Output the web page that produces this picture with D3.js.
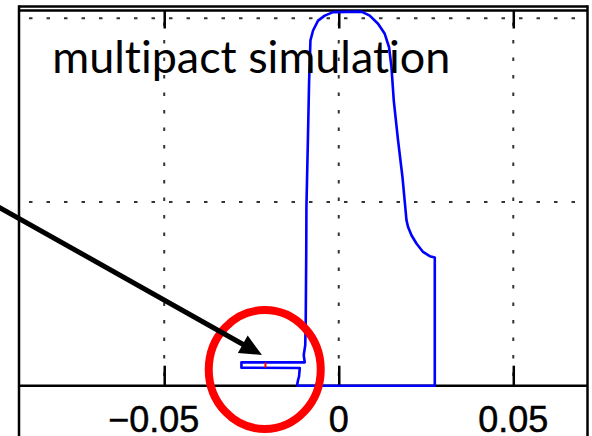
<!DOCTYPE html>
<html>
<head>
<meta charset="utf-8">
<script src="https://cdn.jsdelivr.net/npm/d3@7/dist/d3.min.js"></script>
<style>
  html, body { margin: 0; padding: 0; background: #fff; }
  svg { display: block; }
</style>
</head>
<body>
<div id="chart"></div>
<script>
// profile (x in m, y in arbitrary units)
const curveX = [-0.01209, -0.01195, -0.01166, -0.01138, -0.01117, -0.02788, -0.02788, -0.00974,
  -0.01003, -0.0096, -0.00946, -0.00931, -0.00926, -0.0088, -0.00851, -0.00811, -0.00736,
  -0.00593, -0.00401, -0.00163, 0.0065, 0.00888, 0.01126, 0.01318, 0.01441, 0.0151, 0.01576,
  0.01699, 0.01825, 0.0194, 0.01986, 0.02083, 0.02226, 0.02415, 0.02607, 0.02751, 0.02751, -0.01209]
const curveY = [0, 0.001, 0.031, 0.049, 0.096, 0.098, 0.127, 0.127,
  0.167, 0.221, 0.357, 0.7375, 0.973, 1.372, 1.645, 1.879, 1.933,
  1.987, 2.014, 2.033, 2.036, 2.014, 1.970, 1.915, 1.842, 1.734, 1.552,
  1.335, 1.136, 0.901, 0.864, 0.819, 0.774, 0.728, 0.705, 0.698, 0, 0]

const xTicks = [-0.05, 0, 0.05]
const yGrid = [1, 2]
const xDomain = [-0.0916, 0.07126]
const yDomain = [0, 2.042]

// annotation: red marker, circle and arrow (data coords)
const marker = { x: -0.021, y0: 0.098, y1: 0.127 }
const ring = { x: -0.0212, y: 0.088 }
const arrowFrom = { x: -0.0985, y: 0.984 }
const arrowTo = { x: -0.022, y: 0.167 }

const W = 592, H = 436
const L = 19, R = 587.5, T = 10.5, B = 385.7

const svg = d3.select("#chart").append("svg")
  .attr("width", W).attr("height", H)
  .attr("viewBox", [0, 0, W, H])

const x = d3.scaleLinear().domain(xDomain).range([L, R])
const y = d3.scaleLinear().domain(yDomain).range([B, T])

// grid
const grid = svg.append("g")
  .attr("stroke", "#333")
  .attr("stroke-width", 2)
  .attr("stroke-dasharray", "3.5,14")
grid.selectAll("line.v").data(xTicks).join("line")
  .attr("class", "v")
  .attr("x1", d => x(d)).attr("x2", d => x(d))
  .attr("y1", T + 12).attr("y2", B)
grid.selectAll("line.h").data(yGrid).join("line")
  .attr("class", "h")
  .attr("x1", L + 10).attr("x2", R)
  .attr("y1", d => y(d)).attr("y2", d => y(d))

// axes, ticks pointing inward
svg.append("g")
  .attr("transform", `translate(0,${B})`)
  .call(d3.axisBottom(x).tickValues(xTicks).tickSizeInner(-20).tickSizeOuter(0).tickFormat(""))
  .call(g => g.select(".domain").remove())
  .call(g => g.selectAll(".tick line").attr("stroke", "#000").attr("stroke-width", 2.5))
svg.append("g")
  .attr("transform", `translate(0,${T})`)
  .call(d3.axisTop(x).tickValues(xTicks).tickSizeInner(-18).tickSizeOuter(0).tickFormat(""))
  .call(g => g.select(".domain").remove())
  .call(g => g.selectAll(".tick line").attr("stroke", "#000").attr("stroke-width", 2.5))

const frame = svg.append("g").attr("stroke", "#000").attr("stroke-width", 2.5)
frame.append("line").attr("x1", L).attr("x2", R).attr("y1", B).attr("y2", B)
frame.append("line").attr("x1", L).attr("x2", R).attr("y1", T).attr("y2", T)
frame.append("line").attr("x1", L).attr("x2", R).attr("y1", 6.5).attr("y2", 6.5)
frame.append("line").attr("x1", L).attr("x2", L).attr("y1", 5.3).attr("y2", H)
frame.append("line").attr("x1", R).attr("x2", R).attr("y1", 5.3).attr("y2", H)

// tick labels: the number is centred on the tick, the minus hangs to the left
const labels = svg.append("g")
  .attr("font-family", "'Liberation Sans', Arial, sans-serif")
  .attr("font-size", 36)
  .attr("fill", "#000")
  .attr("stroke", "#000")
  .attr("stroke-width", 0.5)
xTicks.forEach(t => {
  const body = d3.format("")(Math.abs(t))
  const probe = labels.append("text").text(body)
  const w = probe.node().getComputedTextLength()
  probe.remove()
  labels.append("text")
    .attr("x", x(t) + w / 2)
    .attr("y", 431.5)
    .attr("text-anchor", "end")
    .text((t < 0 ? "\u2212" : "") + body)
})

// profile
const pts = curveX.map((d, i) => [d, curveY[i]])
svg.append("path")
  .datum(pts)
  .attr("fill", "none")
  .attr("stroke", "#0000ff")
  .attr("stroke-width", 2.6)
  .attr("stroke-linejoin", "round")
  .attr("d", d3.line().x(d => x(d[0])).y(d => y(d[1])))

svg.append("line")
  .attr("x1", x(marker.x)).attr("x2", x(marker.x))
  .attr("y1", y(marker.y0)).attr("y2", y(marker.y1))
  .attr("stroke", "#ff0000").attr("stroke-width", 2)

// title
svg.append("text")
  .attr("x", 52.3).attr("y", 72.7)
  .attr("font-family", "Lato, 'Open Sans', sans-serif")
  .attr("font-size", 44.5)
  .attr("fill", "#000")
  .style("font-variant-ligatures", "none")
  .attr("textLength", 398)
  .attr("lengthAdjust", "spacingAndGlyphs")
  .text("multipact simulation")

// annotation ring
svg.append("ellipse")
  .attr("cx", x(ring.x)).attr("cy", y(ring.y))
  .attr("rx", 56).attr("ry", 59.5)
  .attr("fill", "none")
  .attr("stroke", "#ff0000")
  .attr("stroke-width", 8)

// arrow
const x0 = x(arrowFrom.x), y0 = y(arrowFrom.y)
const x1 = x(arrowTo.x), y1 = y(arrowTo.y)
const ang = Math.atan2(y1 - y0, x1 - x0)
const headLen = 22, headHalf = 10
const bx = x1 - headLen * Math.cos(ang), by = y1 - headLen * Math.sin(ang)
svg.append("line")
  .attr("x1", x0).attr("y1", y0)
  .attr("x2", bx + 2 * Math.cos(ang)).attr("y2", by + 2 * Math.sin(ang))
  .attr("stroke", "#000").attr("stroke-width", 5)
svg.append("path")
  .attr("d", d3.line()([
    [x1, y1],
    [bx - headHalf * Math.sin(ang), by + headHalf * Math.cos(ang)],
    [bx + headHalf * Math.sin(ang), by - headHalf * Math.cos(ang)]
  ]) + "Z")
  .attr("fill", "#000")
</script>
</body>
</html>
